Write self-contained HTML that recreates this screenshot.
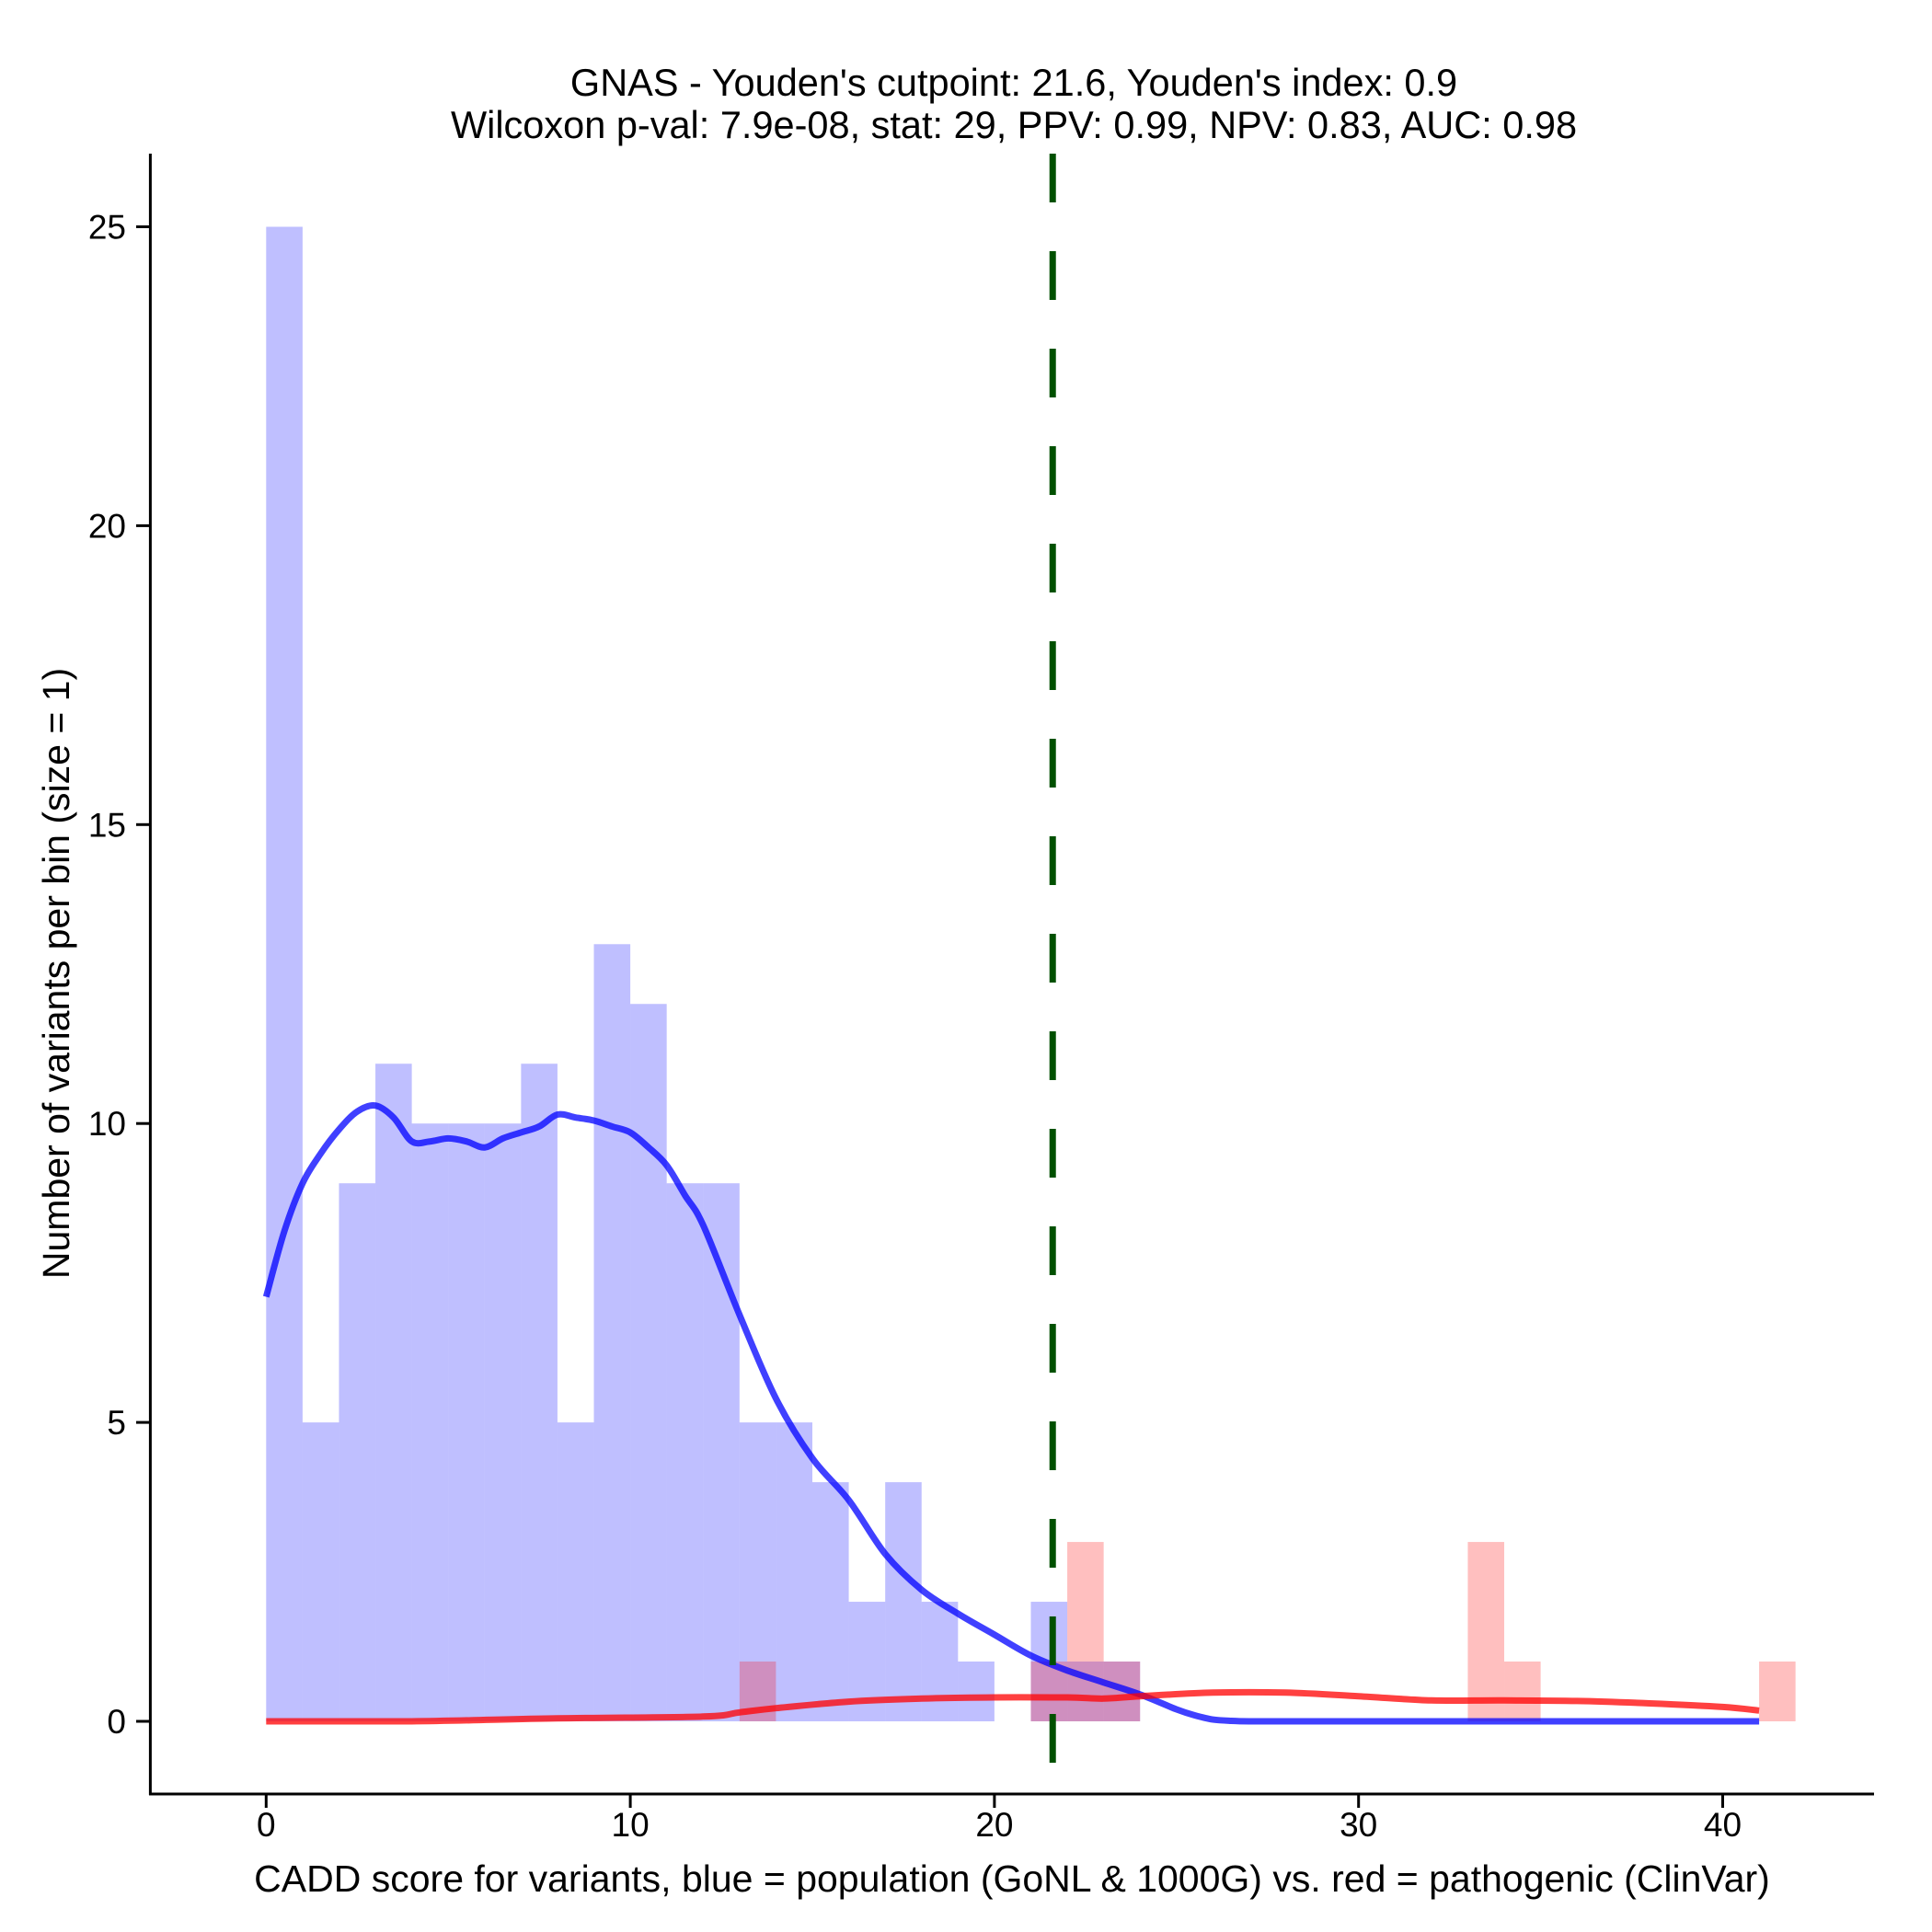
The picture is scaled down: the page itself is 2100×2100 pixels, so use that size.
<!DOCTYPE html>
<html><head><meta charset="utf-8"><style>
html,body{margin:0;padding:0;background:#fff;}
svg{display:block;font-family:"Liberation Sans",Arial,sans-serif;}
</style></head><body>
<svg id="chart" width="2100" height="2100" viewBox="0 0 2100 2100" xmlns="http://www.w3.org/2000/svg">
<text x="1102" y="104" font-size="41.5" text-anchor="middle">GNAS - Youden's cutpoint: 21.6, Youden's index: 0.9</text>
<text x="1102" y="150" font-size="41.5" text-anchor="middle">Wilcoxon p-val: 7.9e-08, stat: 29, PPV: 0.99, NPV: 0.83, AUC: 0.98</text>
<g id="bars"></g>
<g id="curves"></g>
<g id="axes"></g>
<text x="1100" y="2056" font-size="41" text-anchor="middle">CADD score for variants, blue = population (GoNL &amp; 1000G) vs. red = pathogenic (ClinVar)</text>
<text transform="translate(75,1058) rotate(-90)" font-size="41" text-anchor="middle">Number of variants per bin (size = 1)</text>
</svg>
<script>
const blueCounts = [25,5,9,11,10,10,10,11,5,13,12,9,9,5,5,4,2,4,2,1,0,2,1,1];
const redBins = [13,21,22,23,33,34,41];
const redCounts = [1,1,3,1,3,1,1];
const blueKdeX = [0,0.5,1,1.5,2,2.5,3,3.5,4,4.5,5,5.5,6,6.5,7,7.5,8,8.5,9,9.5,10,10.5,11,11.5,12,13,14,15,16,17,18,19,20,21,22,23,24,25,25.5,26,26.5,27,28,32,36,41];
const blueKdeY = [7.1,8.2,9.0,9.5,9.9,10.2,10.3,10.1,9.7,9.7,9.75,9.7,9.6,9.75,9.85,9.95,10.15,10.1,10.05,9.95,9.85,9.6,9.3,8.8,8.3,6.8,5.4,4.4,3.7,2.8,2.2,1.8,1.45,1.1,0.85,0.65,0.45,0.2,0.1,0.03,0.008,0,0,0,0,0];
const redKdeX = [0,4,8,12,13,14,16,18,20,22,23,24,26,28,30,32,34,36,38,40,41];
const redKdeY = [0,0,0.05,0.08,0.15,0.22,0.33,0.38,0.4,0.4,0.38,0.42,0.48,0.48,0.42,0.35,0.35,0.34,0.3,0.24,0.18];
const cutpoint = 21.6;
const xTicks = [0,10,20,30,40];
const yTicks = [0,5,10,15,20,25];

const NS = "http://www.w3.org/2000/svg";
const sx = v => 289.3 + v * 39.58;
const sy = v => 1871 - v * 64.98;
function mk(tag, attrs, parent){const e=document.createElementNS(NS,tag);for(const k in attrs)e.setAttribute(k,attrs[k]);parent.appendChild(e);return e;}
const bars=document.getElementById('bars'), curves=document.getElementById('curves'), axes=document.getElementById('axes');

blueCounts.forEach((c,i)=>{ if(!c) return;
  const r=mk('rect',{x:sx(i),y:sy(c),width:sx(i+1)-sx(i),height:sy(0)-sy(c),fill:'rgba(0,0,255,0.25)'},bars);
  
  
});
redBins.forEach((b,i)=>{ const c=redCounts[i];
  const r=mk('rect',{x:sx(b),y:sy(c),width:sx(b+1)-sx(b),height:sy(0)-sy(c),fill:'rgba(255,0,0,0.25)'},bars);
  
  
});
function path(xs,ys){
  const p=xs.map((x,i)=>[sx(x),sy(ys[i])]);
  const base=sy(0);
  let d='M'+p[0][0].toFixed(1)+','+p[0][1].toFixed(1);
  for(let i=0;i<p.length-1;i++){
    const p0=p[Math.max(0,i-1)],p1=p[i],p2=p[i+1],p3=p[Math.min(p.length-1,i+2)];
    const c1=[p1[0]+(p2[0]-p0[0])/6,Math.min(base,p1[1]+(p2[1]-p0[1])/6)];
    const c2=[p2[0]-(p3[0]-p1[0])/6,Math.min(base,p2[1]-(p3[1]-p1[1])/6)];
    d+=' C'+c1.map(v=>v.toFixed(1)).join(',')+' '+c2.map(v=>v.toFixed(1)).join(',')+' '+p2.map(v=>v.toFixed(1)).join(',');
  }
  return d;
}
const bl=mk('path',{d:path(blueKdeX,blueKdeY),fill:'none',stroke:'rgba(0,0,255,0.75)','stroke-width':7,'stroke-linejoin':'round'},curves);


const rl=mk('path',{d:path(redKdeX,redKdeY),fill:'none',stroke:'rgba(255,0,0,0.75)','stroke-width':7,'stroke-linejoin':'round'},curves);


const cl=mk('line',{x1:sx(cutpoint),x2:sx(cutpoint),y1:167,y2:1950,stroke:'#005000','stroke-width':7,'stroke-dasharray':'53 53'},curves);



const ya=mk('line',{x1:163.4,x2:163.4,y1:167,y2:1951,stroke:'#000','stroke-width':3},axes);


const xa=mk('line',{x1:162,x2:2037,y1:1950,y2:1950,stroke:'#000','stroke-width':3},axes);


xTicks.forEach(t=>{
  const l=mk('line',{x1:sx(t),x2:sx(t),y1:1950,y2:1965,stroke:'#000','stroke-width':3},axes);
  
  
  const tx=mk('text',{x:sx(t),y:1996,'font-size':37,'text-anchor':'middle'},axes);
  tx.textContent=t;
  
  
});
yTicks.forEach(t=>{
  const l=mk('line',{x1:148,x2:163.4,y1:sy(t),y2:sy(t),stroke:'#000','stroke-width':3},axes);
  
  
  const tx=mk('text',{x:137,y:sy(t)+13,'font-size':37,'text-anchor':'end'},axes);
  tx.textContent=t;
  
  
});
</script>
</body></html>
